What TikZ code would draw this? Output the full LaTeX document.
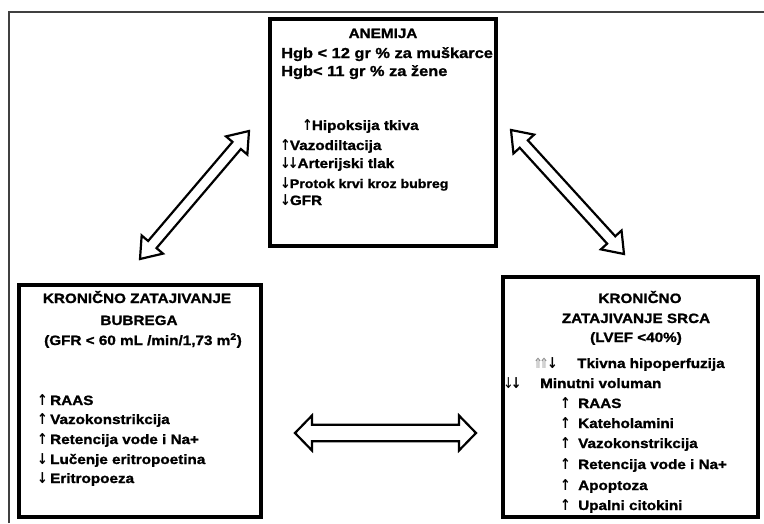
\documentclass[tikz,border=0pt]{standalone}
\usepackage{fontspec}
\setmainfont{Liberation Sans}[FakeStretch=1.13, BoldFeatures={FakeBold=1.3}]
\newfontfamily\symf{DejaVu Sans}[FakeStretch=0.85]
\newcommand\up{{\symf\bfseries\fontsize{15}{15}\selectfont ↑}}
\newcommand\dn{{\symf\bfseries\fontsize{15}{15}\selectfont ↓}}
\usetikzlibrary{calc}
\newcommand\hollowarrow[6]{%
  \coordinate (#2-h) at ($(#2)!#6!(#3)$);
  \coordinate (#3-h) at ($(#3)!#6!(#2)$);
  \draw[#1] (#2) -- ($(#2-h)!#5!90:(#3)$) -- ($(#2-h)!#4!90:(#3)$)
    -- ($(#3-h)!#4!-90:(#2)$) -- ($(#3-h)!#5!-90:(#2)$) -- (#3)
    -- ($(#3-h)!#5!90:(#2)$) -- ($(#3-h)!#4!90:(#2)$)
    -- ($(#2-h)!#4!-90:(#3)$) -- ($(#2-h)!#5!-90:(#3)$) -- cycle;}
\begin{document}
\begin{tikzpicture}[x=1pt,y=-1pt,
  box/.style={draw, line width=3.5pt, inner sep=0pt},
  txt/.style={inner sep=0pt, anchor=base west, font=\bfseries\fontsize{13.5}{15}\selectfont},
  ttl/.style={txt, anchor=base},
  big/.style={font=\bfseries\fontsize{14.5}{16}\selectfont},
  sml/.style={font=\bfseries\fontsize{12.5}{14}\selectfont},
  hollow/.style={draw, line width=2.2pt, fill=white, line join=miter},
  frame/.style={draw=black!75, line width=1.3pt}]
\useasboundingbox (0,0) rectangle (764,523);
% partial outer frame
\coordinate (f1) at (9,523);
\coordinate (f2) at (9,12);
\coordinate (f3) at (764,12);
\draw[frame] (f1) -- (f2) -- (f3);
% boxes
\node[box, minimum width=226pt, minimum height=227pt] (anemija) at (383,132.5) {};
\node[box, minimum width=242pt, minimum height=232pt] (bubreg) at (140,401) {};
\node[box, minimum width=255pt, minimum height=240pt] (srce) at (630.5,397) {};
% top box text
\node[ttl] (t0) at (383,38) {ANEMIJA};
\node[txt,big] (t1) at (281,58) {Hgb < 12 gr \% za muškarce};
\node[txt,big] (t2) at (281,76) {Hgb< 11 gr \% za žene};
\node[txt] (t3) at (302,130) {\up\kern-1pt Hipoksija tkiva};
\node[txt] (t4) at (280,150) {\up\kern-1pt Vazodiltacija};
\node[txt] (t5) at (280,168) {\dn\kern-3pt\dn\kern-1pt Arterijski tlak};
\node[txt,sml] (t6) at (280,188) {\dn\kern-1pt Protok krvi kroz bubreg};
\node[txt] (t7) at (280,205) {\dn\kern-1pt GFR};
% left box text
\node[ttl] (l0) at (137,303) {KRONIČNO ZATAJIVANJE};
\node[ttl] (l1) at (139,325) {BUBREGA};
\node[ttl] (l2) at (143,345) {(GFR < 60 mL /min/1,73 m\textsuperscript{2})};
\node[txt] (la1) at (37,405) {\up};
\node[txt] (lb1) at (50,405) {RAAS};
\node[txt] (la2) at (37,424) {\up};
\node[txt] (lb2) at (50,424) {Vazokonstrikcija};
\node[txt] (la3) at (37,444) {\up};
\node[txt] (lb3) at (50,444) {Retencija vode i Na+};
\node[txt] (la4) at (37,464) {\dn};
\node[txt] (lb4) at (50,464) {Lučenje eritropoetina};
\node[txt] (la5) at (37,483) {\dn};
\node[txt] (lb5) at (50,483) {Eritropoeza};
% right box text
\node[ttl] (r0) at (640,303) {KRONIČNO};
\node[ttl] (r1) at (636,323) {ZATAJIVANJE SRCA};
\node[ttl] (r2) at (636,342) {(LVEF <40\%)};
\node[txt] (ra0) at (533,368) {{\symf\mdseries\fontsize{14}{14}\selectfont\color{black!45}⇑\kern-4pt⇑}\kern-2pt\dn};
\node[txt] (rb0) at (577,368) {Tkivna hipoperfuzija};
\node[txt] (ra1) at (503,388) {{\symf\mdseries\fontsize{15}{15}\selectfont ↓}\kern-3pt\dn};
\node[txt] (rb1) at (540,388) {Minutni voluman};
\node[txt] (ra2) at (560,408) {\up};
\node[txt] (rb2) at (578,408) {RAAS};
\node[txt] (ra3) at (560,428) {\up};
\node[txt] (rb3) at (578,428) {Kateholamini};
\node[txt] (ra4) at (560,448) {\up};
\node[txt] (rb4) at (578,448) {Vazokonstrikcija};
\node[txt] (ra5) at (560,469) {\up};
\node[txt] (rb5) at (578,469) {Retencija vode i Na+};
\node[txt] (ra6) at (560,490) {\up};
\node[txt] (rb6) at (578,490) {Apoptoza};
\node[txt] (ra7) at (560,510) {\up};
\node[txt] (rb7) at (578,510) {Upalni citokini};
% hollow double arrows
\coordinate (d1a) at (140,259);
\coordinate (d1b) at (249,131);
\coordinate (d2a) at (511,130);
\coordinate (d2b) at (624,254);
\coordinate (h1a) at (295,433);
\coordinate (h1b) at (476,433);
\hollowarrow{hollow}{d1a}{d1b}{5.5pt}{14pt}{19pt}
\hollowarrow{hollow}{d2a}{d2b}{5.5pt}{14pt}{19pt}
\hollowarrow{hollow}{h1a}{h1b}{8.3pt}{17.5pt}{17pt}
\end{tikzpicture}
\end{document}
